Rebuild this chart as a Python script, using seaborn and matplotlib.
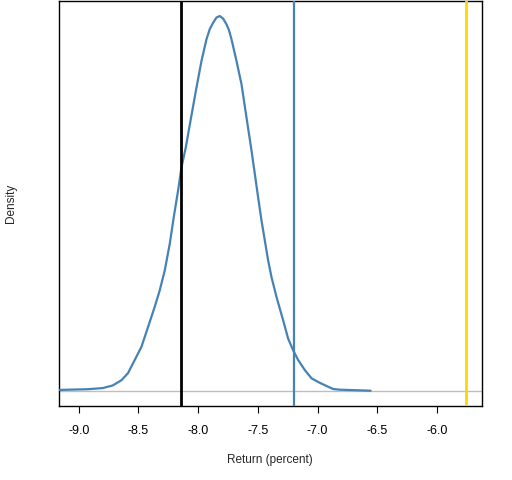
import numpy as np
import pandas as pd
import matplotlib
matplotlib.use('Agg')
import matplotlib.pyplot as plt
import seaborn as sns

# Density curve (return in percent, density scaled to ~1.35 peak)
ret = [-9.1675, -8.9246, -8.799, -8.7152, -8.6424, -8.5871, -8.531, -8.4749, -8.4196,
       -8.3635, -8.3216, -8.2797, -8.2379, -8.2044, -8.1683, -8.1399, -8.1039, -8.0645,
       -8.0142, -7.9724, -7.9305, -7.9031, -7.8752, -7.8472, -7.8191, -7.7911, -7.763,
       -7.7420, -7.7211, -7.6792, -7.6374,
       -7.5955, -7.5536, -7.526, -7.4983, -7.4698, -7.4422, -7.4146, -7.3861, -7.3442,
       -7.2889, -7.247, -7.2052, -7.1633, -7.1072, -7.0511, -6.9816, -6.9255, -6.8702,
       -6.8141, -6.557]
dens_rel = [0.002, 0.004, 0.007, 0.014, 0.028, 0.047, 0.082, 0.117, 0.170,
            0.224, 0.268, 0.321, 0.392, 0.463, 0.534, 0.596, 0.649, 0.72,
            0.809, 0.880, 0.938, 0.965, 0.982, 0.996, 1.0, 0.993, 0.978,
            0.962, 0.938, 0.880, 0.818,
            0.729, 0.641, 0.579, 0.516, 0.454, 0.401, 0.348, 0.303, 0.250,
            0.188, 0.139, 0.108, 0.082, 0.055, 0.033, 0.021, 0.0125, 0.0045,
            0.0027, 0.0]
peak = 1.35
density = [d * peak for d in dens_rel]

# reference lines
black_line = -8.14
blue_line = -7.20
gold_line = -5.76

ticks = [-9.0, -8.5, -8.0, -7.5, -7.0, -6.5, -6.0]

df = pd.DataFrame({'ret': ret, 'density': density})

sns.set_style('white')
plt.rcParams['font.family'] = ['Liberation Sans', 'DejaVu Sans']

fig = plt.figure(figsize=(5.12, 4.8), dpi=100)
ax = fig.add_axes([0.1152, 0.1548, 0.8256, 0.843])

ax.axhline(0, color='#BEBEBE', lw=1.0, zorder=1)
sns.lineplot(data=df, x='ret', y='density', ax=ax, color='steelblue', lw=1.6, zorder=3)
ax.axvline(black_line, color='black', lw=2.0, zorder=4)
ax.axvline(blue_line, color='steelblue', lw=1.6, zorder=4)
ax.axvline(gold_line, color='gold', lw=2.0, zorder=4)

ax.set_xlim(-9.165, -5.627)
ax.set_ylim(-0.04 * peak, 1.04 * peak)
ax.set_xticks(ticks)
ax.set_xticklabels([f'{t:.1f}' for t in ticks])
ax.set_yticks([])
ax.tick_params(axis='x', bottom=True, length=5, width=0.8, color='black',
               labelsize=9, pad=9, labelcolor='black')
for s in ax.spines.values():
    s.set_color('black')
    s.set_linewidth(1.0)

ax.set_xlabel('Return (percent)', fontsize=8.5, labelpad=12)
ax.set_ylabel('Density', fontsize=8.5, labelpad=30)

fig.savefig('out.png', dpi=100)
